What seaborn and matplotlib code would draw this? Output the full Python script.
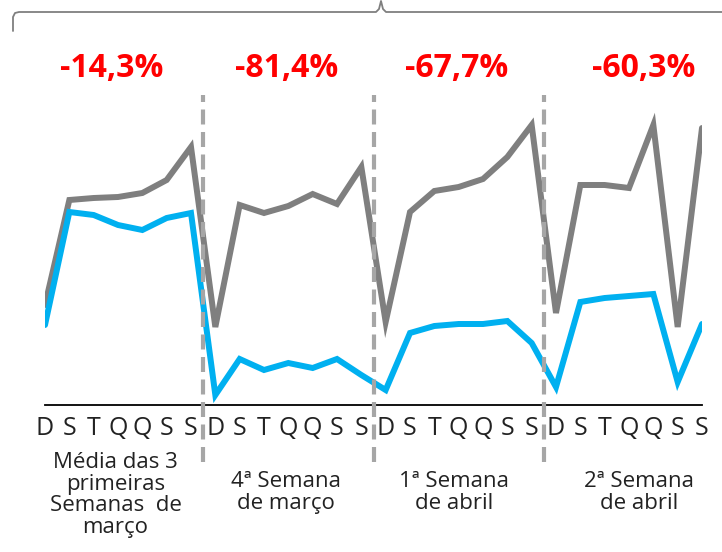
import numpy as np
import pandas as pd
import seaborn as sns
import matplotlib.pyplot as plt
from matplotlib.lines import Line2D

# data (arbitrary units)
days = ["D", "S", "T", "Q", "Q", "S", "S"]
weeks = ["Média das 3\nprimeiras\nSemanas  de\nmarço", "4ª Semana\nde março",
         "1ª Semana\nde abril", "2ª Semana\nde abril"]
changes = ["-14,3%", "-81,4%", "-67,7%", "-60,3%"]

gray_vals = [100, 205, 207, 208, 212, 225, 258,
             78, 200, 192, 199, 211, 201, 238,
             83, 193, 214, 218, 226, 248, 280,
             92, 220, 220, 217, 280, 78, 277]
blue_vals = [80, 193, 190, 180, 175, 187, 192,
             10, 46, 35, 42, 37, 46, 30,
             15, 72, 79, 81, 81, 84, 62,
             18, 103, 107, 109, 111, 23, 81]

n = len(gray_vals)
df = pd.DataFrame({
    "idx": list(range(n)) * 2,
    "val": gray_vals + blue_vals,
    "serie": ["cinza"] * n + ["azul"] * n,
})

sns.set_style("white")
plt.rcParams["font.family"] = ["Open Sans", "DejaVu Sans"]

fig = plt.figure(figsize=(7.22, 5.52), dpi=100)
W, H = 722, 552
ax = fig.add_axes([45 / W, (H - 405) / H, (702 - 45) / W, (405 - 95) / H])

sns.lineplot(data=df, x="idx", y="val", hue="serie",
             palette={"cinza": "#7f7f7f", "azul": "#00b0f0"},
             linewidth=4.3, legend=False, ax=ax, sort=False)
for ln in ax.lines:
    ln.set_solid_joinstyle("miter")

ax.set_xlim(0, n - 1)
ax.set_ylim(0, 310)
ax.set_xlabel("")
ax.set_ylabel("")
ax.set_yticks([])
ax.set_xticks(range(n))
ax.set_xticklabels(days * 4, fontsize=18, color="#222222")
ax.tick_params(axis="x", length=0, pad=8)
sns.despine(ax=ax, left=True)
ax.spines["bottom"].set_color("black")
ax.spines["bottom"].set_linewidth(1.3)

# week separators
for sep in [6.5, 13.5, 20.5]:
    ax.axvline(sep, ymin=-0.185, ymax=1.0, color="#a6a6a6", lw=3,
               dashes=(3.6, 1.8), clip_on=False, zorder=5)

# red percentages and week labels
tr = ax.get_xaxis_transform()
for x, txt in zip([2.75, 9.93, 16.9, 24.6], changes):
    ax.text(x, 1.087, txt, transform=tr, ha="center", va="center",
            color="#ff0000", fontsize=23, fontweight="bold")
for i, (x, txt) in enumerate(zip([2.9, 9.9, 16.8, 24.4], weeks)):
    y = -0.152 if i == 0 else -0.213
    ax.text(x, y, txt, transform=tr, ha="center", va="top",
            fontsize=16, color="#222222", linespacing=1.04)

# brace on top
bx = [13, 13, 15, 19, 376, 379, 381, 383, 386, 722]
by = [31, 17, 13, 12, 12, 9, 1, 9, 12, 12]
fig.add_artist(Line2D(np.array(bx) / W, 1 - np.array(by) / H,
                      transform=fig.transFigure, color="#7f7f7f", lw=1.3))

fig.savefig("out.png", dpi=100)
